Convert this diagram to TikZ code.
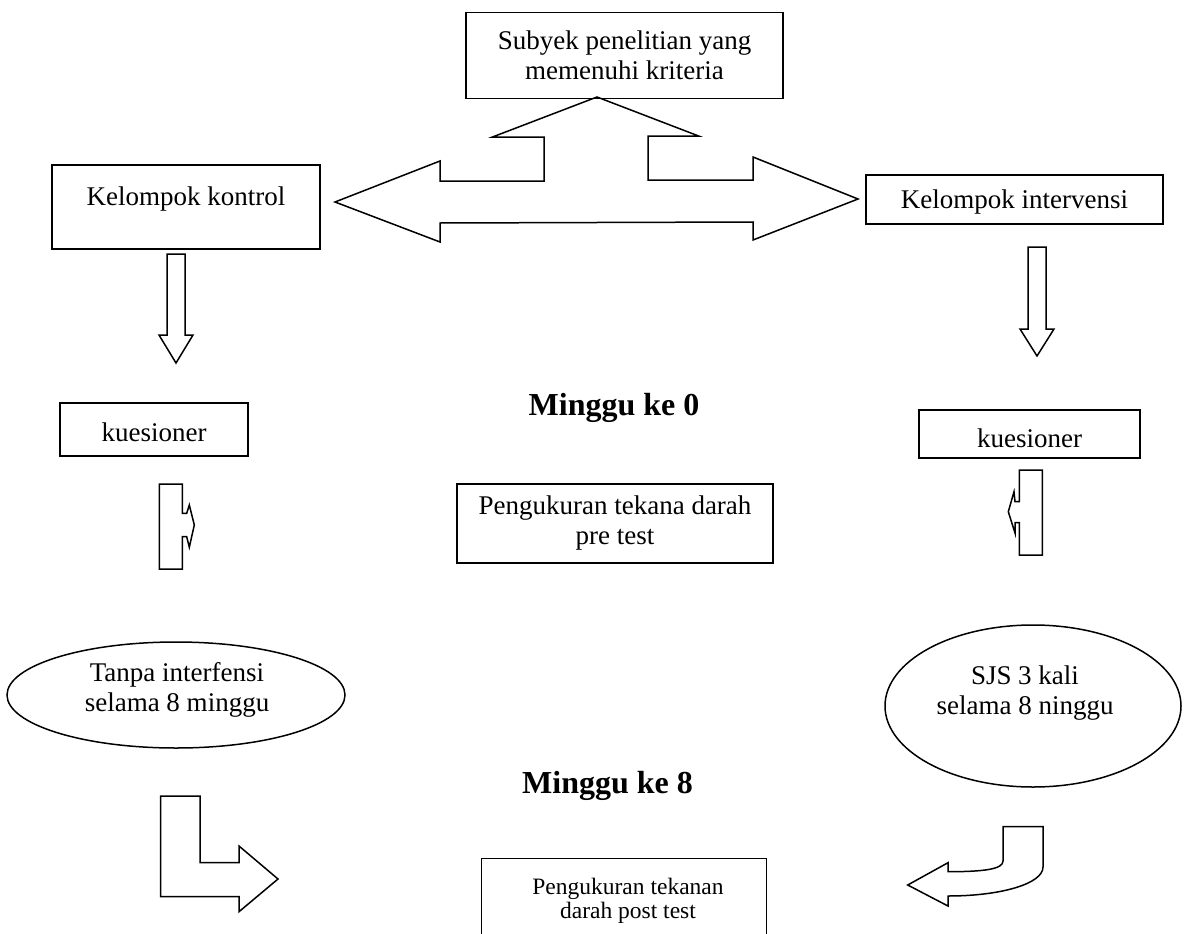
\documentclass[tikz,border=0pt]{standalone}
\usepackage{fontspec}
\setmainfont{Liberation Serif}
\usetikzlibrary{shapes.geometric}
\begin{document}
\begin{tikzpicture}[x=1pt,y=-1pt,
  outl/.style={draw=black, line width=1.5pt, line join=miter},
  box/.style={draw=black, line width=1.5pt, inner sep=0pt},
  oval/.style={ellipse, draw=black, line width=1.5pt, inner sep=0pt},
  txt/.style={font=\fontsize{27}{30}\selectfont, inner sep=0pt},
  head/.style={font=\fontsize{32}{36}\selectfont\bfseries, inner sep=0pt},
  small/.style={font=\fontsize{23.5}{24}\selectfont, inner sep=0pt}]
\clip (0,0) rectangle (1191,934);
\fill[white] (0,0) rectangle (1191,934);

% boxes
\node[box, txt, align=center, minimum width=317pt, minimum height=86pt] (subj) at (624.5,55.5) {Subyek penelitian yang\\memenuhi kriteria};
\node[box, txt, anchor=base, text height=40pt, text depth=44pt, minimum width=268pt] (kontrol) at (186,205) {Kelompok kontrol};
\node[box, txt, anchor=base, text height=33pt, text depth=16pt, minimum width=297pt] (interv) at (1014.5,208) {Kelompok intervensi};
\node[box, txt, anchor=base, text height=38.7pt, text depth=14.3pt, minimum width=188pt] (kuesL) at (154,441.7) {kuesioner};
\node[box, txt, anchor=base, text height=37pt, text depth=11pt, minimum width=221pt] (kuesR) at (1029.5,447) {kuesioner};
\node[head, anchor=base] (m0) at (614,415) {Minggu ke 0};
\node[box, txt, align=center, minimum width=316pt, minimum height=79pt] (pre) at (615,523.5) {Pengukuran tekana darah\\pre test};

% ellipses
\node[oval, minimum width=338pt, minimum height=106pt] (tanpa) at (176,695) {};
\node[txt, align=center] (tanpat) at (177,690) {Tanpa interfensi\\selama 8 minggu};
\node[oval, minimum width=296pt, minimum height=162pt] (sjs) at (1033,706) {};
\node[txt, align=center] (sjst) at (1025,693) {SJS 3 kali\\selama 8 ninggu};

\node[head, anchor=base] (m8) at (607.5,793) {Minggu ke 8};
\node[box, minimum width=285pt, minimum height=110pt, anchor=north] (post) at (624.2,857.7) {};
\node[small, align=center] (postt) at (628,901) {Pengukuran tekanan\\darah post test};

% three-way block arrow
\draw[outl] (597,97) -- (698.6,136) -- (648,136) -- (648,180) -- (753,180) -- (753,157)
  -- (858,199) -- (753,240) -- (753,222) -- (440,223) -- (440,242) -- (335,202)
  -- (440,161) -- (440,181) -- (544,181) -- (544,137) -- (492.5,137) -- cycle;

% down arrows
\draw[outl] (167,254) -- (185,254) -- (185,335) -- (193,335) -- (176,363) -- (159,335) -- (167,335) -- cycle;
\draw[outl] (1028,247) -- (1046,247) -- (1046,329) -- (1054,329) -- (1037,356) -- (1020,329) -- (1028,329) -- cycle;

% small notched arrows
\draw[outl] (159.3,484) -- (182.3,484) -- (182.3,513.3) -- (186.7,513.3) -- (189.3,505) -- (194.3,525)
  -- (189.3,547.3) -- (186.7,536.7) -- (182.3,536.7) -- (182.3,569) -- (159.3,569) -- cycle;
\draw[outl] (1019.3,470) -- (1042.3,470) -- (1042.3,555) -- (1019.3,555) -- (1019.3,522.7) -- (1015,522.7)
  -- (1015,533) -- (1008.3,511.7) -- (1014,491.7) -- (1015,501.7) -- (1019.3,501.7) -- cycle;

% bottom arrows
\draw[outl] (160.7,796) -- (200,796) -- (200,862.7) -- (239,862.7) -- (239,846) -- (278,879)
  -- (239,911.7) -- (239,896.7) -- (160.7,896.7) -- cycle;
\draw[outl] (1003,826.7) -- (1043,826.7) -- (1043,867) .. controls (1043,884) and (1000,896) .. (948,896)
  -- (948,906) -- (907.7,885) -- (948,862.7) -- (948,871.7) .. controls (985,871.7) and (1003,869) .. (1003,861) -- cycle;
\end{tikzpicture}
\end{document}
